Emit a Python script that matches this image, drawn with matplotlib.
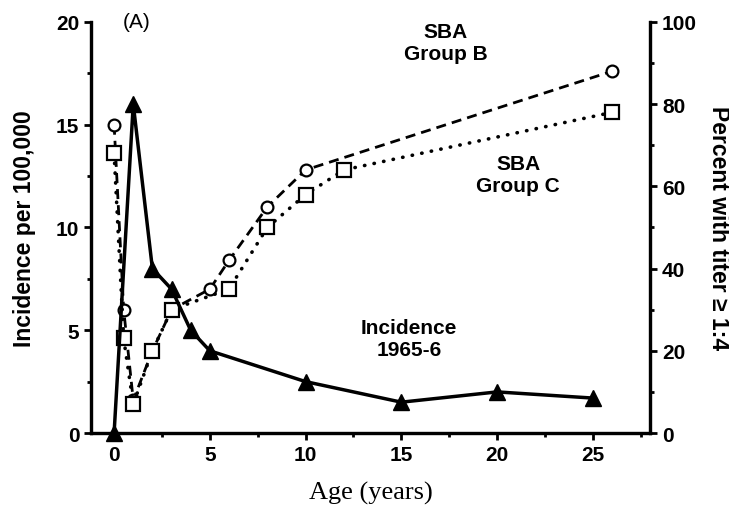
import matplotlib.pyplot as plt
from matplotlib.ticker import MultipleLocator

# Incidence of disease, 1965-6 (per 100,000)
inc_age = [0, 1, 2, 3, 4, 5, 10, 15, 20, 25]
inc_rate = [0, 16, 8, 7, 5, 4, 2.5, 1.5, 2, 1.7]

# Percent with SBA titer >= 1:4, group B
b_age = [0, 0.5, 1, 2, 3, 5, 6, 8, 10, 26]
b_pct = [75, 30, 8, 20, 30, 35, 42, 55, 64, 88]

# Percent with SBA titer >= 1:4, group C
c_age = [0, 0.5, 1, 2, 3, 6, 8, 10, 12, 26]
c_pct = [68, 23, 7, 20, 30, 35, 50, 58, 64, 78]

plt.rcParams['font.family'] = ['Liberation Sans', 'DejaVu Sans']

fig = plt.figure(figsize=(7.29, 5.10), dpi=100)
ax = fig.add_axes([0.125, 0.149, 0.767, 0.806])
ax2 = ax.twinx()

# titer curves on the right-hand scale
ax2.plot(b_age, b_pct, color='black', lw=2.0, ls=(0, (3.6, 2.2)),
         marker='o', ms=8.5, mfc='white', mec='black', mew=1.6)
ax2.plot(c_age, c_pct, color='black', lw=2.6, ls=(0, (0.1, 2.6)),
         dash_capstyle='round', marker='s', ms=9.5, mfc='white',
         mec='black', mew=1.6)
ax2.set_ylim(0, 100)

# incidence on the left-hand scale, drawn on top
ax.set_zorder(ax2.get_zorder() + 1)
ax.patch.set_visible(False)
ax.plot(inc_age, inc_rate, color='black', lw=2.5, marker='^', ms=11,
        clip_on=False)
ax.set_xlim(-1.2, 28)
ax.set_ylim(0, 20)

ax.xaxis.set_major_locator(MultipleLocator(5))
ax.xaxis.set_minor_locator(MultipleLocator(2.5))
ax.yaxis.set_major_locator(MultipleLocator(5))
ax.yaxis.set_minor_locator(MultipleLocator(2.5))
ax2.yaxis.set_major_locator(MultipleLocator(20))
ax2.yaxis.set_minor_locator(MultipleLocator(10))

for a in (ax, ax2):
    a.spines['top'].set_visible(False)
    for s in a.spines.values():
        s.set_linewidth(2.3)
    a.tick_params(which='major', direction='out', length=5, width=2,
                  labelsize=15)
    a.tick_params(which='minor', direction='out', length=3, width=2)
for lab in ax.get_xticklabels() + ax.get_yticklabels() + ax2.get_yticklabels():
    lab.set_fontweight('bold')

ax.set_ylabel('Incidence per 100,000', fontsize=16.5, fontweight='bold',
              labelpad=14)
ax2.set_ylabel('Percent with titer \u2265 1:4', fontsize=16.5,
               fontweight='bold', rotation=-90, labelpad=24)
ax.set_xlabel('Age (years)', fontsize=19, family='Liberation Serif',
              labelpad=12)

ax.text(1.2, 20.0, '(A)', fontsize=15, ha='center', va='center')
ax.text(17.3, 19.0, 'SBA\nGroup B', fontsize=15, fontweight='bold',
        ha='center', va='center', linespacing=1.2)
ax.text(21.1, 12.6, 'SBA\nGroup C', fontsize=15, fontweight='bold',
        ha='center', va='center', linespacing=1.2)
ax.text(15.4, 4.6, 'Incidence\n1965-6', fontsize=15, fontweight='bold',
        ha='center', va='center', linespacing=1.2)

fig.savefig('out.png', dpi=100)
